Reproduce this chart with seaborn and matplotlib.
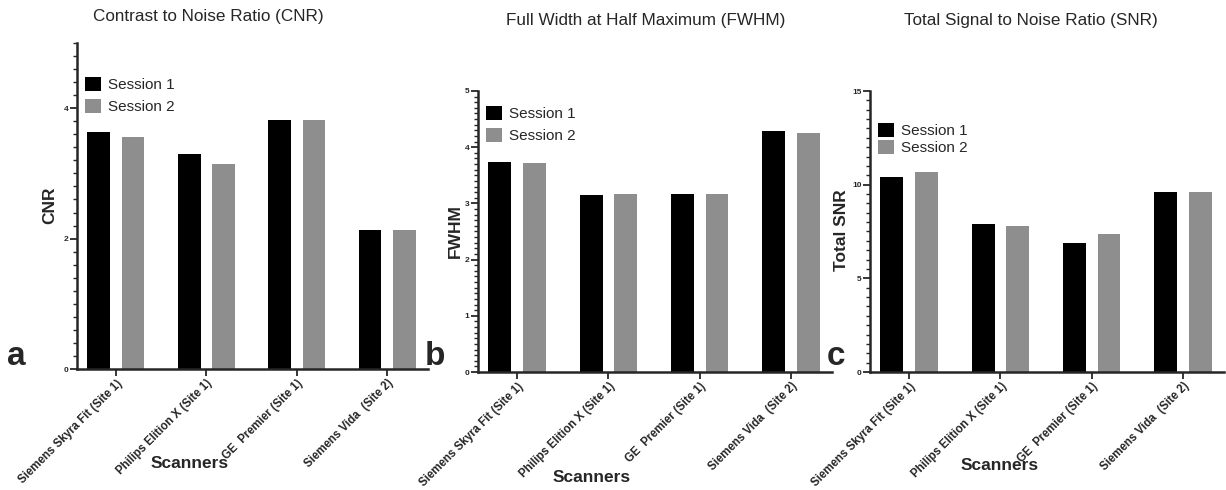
import numpy as np
import pandas as pd
import matplotlib
matplotlib.use("Agg")
import matplotlib.pyplot as plt
from matplotlib.ticker import MultipleLocator, FixedLocator
import seaborn as sns

scanners = ["Siemens Skyra Fit (Site 1)", "Philips Elition X (Site 1)",
            "GE  Premier (Site 1)", "Siemens Vida  (Site 2)"]
sessions = ["Session 1", "Session 2"]

cnr_s1 = [3.64, 3.30, 3.82, 2.13]
cnr_s2 = [3.56, 3.14, 3.82, 2.13]
fwhm_s1 = [3.74, 3.15, 3.17, 4.29]
fwhm_s2 = [3.71, 3.16, 3.17, 4.25]
snr_s1 = [10.39, 7.91, 6.90, 9.59]
snr_s2 = [10.69, 7.79, 7.38, 9.59]

sns.set_style("ticks")
plt.rcParams["font.family"] = ["Liberation Sans", "DejaVu Sans"]

W, H = 1226, 490
fig = plt.figure(figsize=(W / 100, H / 100), dpi=100)


def box(l, r, t, b):
    # pixel box -> figure fraction
    return [l / W, 1 - b / H, (r - l) / W, (b - t) / H]


def long_df(s1, s2):
    return pd.DataFrame({
        "Scanner": scanners * 2,
        "Session": [sessions[0]] * 4 + [sessions[1]] * 4,
        "value": s1 + s2,
    })


panels = [
    dict(s1=cnr_s1, s2=cnr_s2, box=box(77, 428, 43, 369), ymax=5,
         major=[0, 2, 4], minor=0.2, ylabel="CNR", ylab_xy=(50, 205),
         title="Contrast to Noise Ratio (CNR)", title_xy=(208, 17),
         letter="a", letter_xy=(16, 356), xlab_xy=(190, 463),
         leg=(0.0, 0.92), spacing=0.45),
    dict(s1=fwhm_s1, s2=fwhm_s2, box=box(478, 832, 91, 372), ymax=5,
         major=[0, 1, 2, 3, 4, 5], minor=0.1, ylabel="FWHM", ylab_xy=(455, 231),
         title="Full Width at Half Maximum (FWHM)", title_xy=(646, 20),
         letter="b", letter_xy=(435, 356), xlab_xy=(592, 477),
         leg=(0.0, 0.975), spacing=0.45),
    dict(s1=snr_s1, s2=snr_s2, box=box(870, 1224, 91, 372), ymax=15,
         major=[0, 5, 10, 15], minor=0.5, ylabel="Total SNR", ylab_xy=(842, 230),
         title="Total Signal to Noise Ratio (SNR)", title_xy=(1031, 20),
         letter="c", letter_xy=(836, 356), xlab_xy=(1000, 465),
         leg=(0.0, 0.915), spacing=0.15),
]

for p in panels:
    ax = fig.add_axes(p["box"])
    df = long_df(p["s1"], p["s2"])
    sns.barplot(data=df, x="Scanner", y="value", hue="Session",
                palette=["#000000", "#8e8e8e"], width=0.76, gap=0.34,
                edgecolor=None, linewidth=0, ax=ax)
    ax.set_xlim(-0.43, 3.45)
    ax.set_ylim(0, p["ymax"])
    ax.yaxis.set_major_locator(FixedLocator(p["major"]))
    ax.yaxis.set_minor_locator(MultipleLocator(p["minor"]))
    ax.tick_params(axis="y", which="major", length=5, width=1.3, labelsize=6, pad=1)
    ax.tick_params(axis="y", which="minor", length=3, width=1.0)
    ax.tick_params(axis="x", which="major", length=5, width=1.3, labelsize=8, pad=1)
    for lab in ax.get_yticklabels():
        lab.set_fontweight("bold")
    ax.set_xticks(range(4))
    ax.set_xticklabels(scanners, rotation=45, ha="right", rotation_mode="anchor",
                       fontweight="bold", fontsize=8.3)
    for s in ["top", "right"]:
        ax.spines[s].set_visible(False)
    for s in ["left", "bottom"]:
        ax.spines[s].set_linewidth(1.8)
    ax.set_xlabel("")
    ax.set_ylabel("")
    ax.legend(loc="upper left", bbox_to_anchor=p["leg"], frameon=False,
              fontsize=11, handlelength=1.05, handleheight=1.05,
              handletextpad=0.45, labelspacing=p["spacing"], borderaxespad=0.1)

    fig.text(p["title_xy"][0] / W, 1 - p["title_xy"][1] / H, p["title"],
             ha="center", va="center", fontsize=12.3)
    fig.text(p["ylab_xy"][0] / W, 1 - p["ylab_xy"][1] / H, p["ylabel"],
             ha="center", va="center", rotation=90, fontsize=12.5,
             fontweight="bold")
    fig.text(p["xlab_xy"][0] / W, 1 - p["xlab_xy"][1] / H, "Scanners",
             ha="center", va="center", fontsize=12.5, fontweight="bold")
    fig.text(p["letter_xy"][0] / W, 1 - p["letter_xy"][1] / H, p["letter"],
             ha="center", va="center", fontsize=24, fontweight="bold")

fig.savefig("out.png", dpi=100)
